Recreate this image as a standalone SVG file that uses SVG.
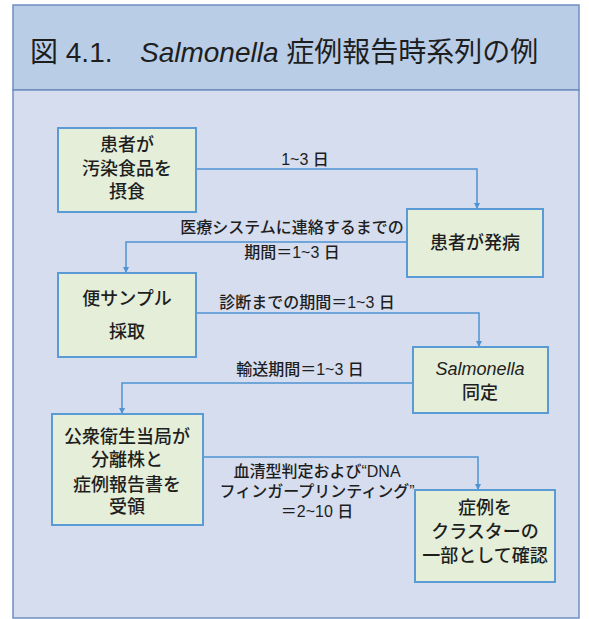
<svg xmlns="http://www.w3.org/2000/svg" width="589" height="619" viewBox="0 0 589 619">
<style>
text{font-family:"Liberation Sans","Noto Sans CJK JP",sans-serif;fill:#1e1e1e}
.box{fill:#e5eed9;stroke:#5b9bd5;stroke-width:2}
.bt{font-size:18px;font-weight:500;text-anchor:middle}
.lb{font-size:16px;font-weight:500;text-anchor:middle}
.it{font-style:italic;font-weight:normal}
.con{fill:none;stroke:#4f93d2;stroke-width:1.5}
</style>
<defs>
<marker id="ah" viewBox="0 0 10 10" refX="10" refY="5" markerWidth="6" markerHeight="7" orient="auto" markerUnits="userSpaceOnUse">
<path d="M0,0 L10,5 L0,10 z" fill="#4f93d2"/>
</marker>
</defs>
<rect x="0" y="0" width="589" height="619" fill="#ffffff"/>
<g id="frame">
<rect x="13" y="5" width="566" height="85" fill="#bacde7" stroke="#6f8fc2" stroke-width="1.5"/>
<rect x="13" y="90" width="566" height="528" fill="#d5ddef" stroke="#6f8fc2" stroke-width="1.5"/>
<text x="30" y="62" font-size="28"><tspan>図 4.1.</tspan><tspan x="140" font-style="italic">Salmonella</tspan><tspan> 症例報告時系列の例</tspan></text>
</g>
<g id="connectors">
<path class="con" d="M196,169 H477 V209" marker-end="url(#ah)"/>
<path class="con" d="M407,242 H126 V273" marker-end="url(#ah)"/>
<path class="con" d="M196,313 H479 V347" marker-end="url(#ah)"/>
<path class="con" d="M413,383 H122 V414" marker-end="url(#ah)"/>
<path class="con" d="M203,457 H478 V490" marker-end="url(#ah)"/>
<text class="lb" x="305" y="165">1~3 日</text>
<text class="lb" x="292" y="233">医療システムに連絡するまでの</text>
<text class="lb" x="292" y="258">期間＝1~3 日</text>
<text class="lb" x="307" y="308">診断までの期間＝1~3 日</text>
<text class="lb" x="300" y="375">輸送期間＝1~3 日</text>
<text class="lb" x="317" y="477">血清型判定および“DNA</text>
<text class="lb" x="317" y="497">フィンガープリンティング”</text>
<text class="lb" x="317" y="517">＝2~10 日</text>
</g>
<g id="n1">
<rect class="box" x="58" y="128" width="138" height="84"/>
<text class="bt" x="127" y="151">患者が</text>
<text class="bt" x="127" y="175">汚染食品を</text>
<text class="bt" x="127" y="198">摂食</text>
</g>
<g id="n2">
<rect class="box" x="407" y="209" width="136" height="68"/>
<text class="bt" x="475" y="249">患者が発病</text>
</g>
<g id="n3">
<rect class="box" x="58" y="273" width="138" height="84"/>
<text class="bt" x="127" y="305">便サンプル</text>
<text class="bt" x="127" y="338">採取</text>
</g>
<g id="n4">
<rect class="box" x="413" y="347" width="135" height="66"/>
<text class="bt it" x="480" y="375">Salmonella</text>
<text class="bt" x="480" y="399">同定</text>
</g>
<g id="n5">
<rect class="box" x="52" y="414" width="151" height="111"/>
<text class="bt" x="127" y="443">公衆衛生当局が</text>
<text class="bt" x="127" y="466">分離株と</text>
<text class="bt" x="127" y="491">症例報告書を</text>
<text class="bt" x="127" y="513">受領</text>
</g>
<g id="n6">
<rect class="box" x="415" y="490" width="140" height="92"/>
<text class="bt" x="485" y="514">症例を</text>
<text class="bt" x="485" y="538">クラスターの</text>
<text class="bt" x="485" y="562">一部として確認</text>
</g>
</svg>
